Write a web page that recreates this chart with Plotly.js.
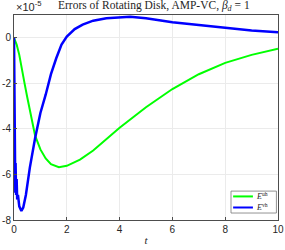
<!DOCTYPE html>
<html><head><meta charset="utf-8">
<script src="https://cdn.plot.ly/plotly-3.0.1.min.js"></script>
<style>body{margin:0;background:#fff}#c{width:285px;height:250px}</style>
</head><body><div id="c"></div>
<script>
var tGreen = [0,0.1,0.2,0.3,0.4,0.5,0.6,0.8,1.0,1.2,1.4,1.7,2.0,2.5,3.0,3.5,4.0,4.5,5.0,6.0,7.0,8.0,9.0,10];
var eGreen = [0,-0.3,-0.75,-1.3,-2.0,-2.6,-3.2,-4.3,-4.9,-5.3,-5.55,-5.68,-5.62,-5.35,-4.95,-4.45,-3.95,-3.5,-3.05,-2.25,-1.6,-1.1,-0.75,-0.48];
var tBlue = [0,0.01,0.02,0.04,0.05,0.06,0.08,0.1,0.12,0.15,0.2,0.28,0.35,0.45,0.6,0.8,1.0,1.2,1.4,1.6,1.8,2.0,2.3,2.6,3.0,3.5,4.0,4.4,5.0,5.5,6.0,7.0,8.0,9.0,10];
var eBlue = [0,-2,-4.5,-5.6,-6.8,-5.5,-6.9,-6.2,-7.1,-6.9,-7.4,-7.6,-7.45,-6.9,-5.7,-4.4,-3.3,-2.5,-1.6,-0.9,-0.3,0.05,0.38,0.58,0.75,0.86,0.91,0.92,0.86,0.78,0.68,0.56,0.43,0.32,0.24];
var xTicks = [0,2,4,6,8,10];
var yTicks = [0,-2,-4,-6,-8];
var yTickText = ["0","-2","-4","-6","-8"];
var scale = 1e-5;
var names = ["<i>E</i><sup>uh</sup>","<i>E</i><sup>vh</sup>"];
var colors = ['#00ff00','#0000ff'];

var traces = [
 {x:tGreen, y:eGreen.map(function(v){return v*scale;}), mode:'lines', line:{color:colors[0],width:2}, name:names[0], showlegend:false},
 {x:tBlue, y:eBlue.map(function(v){return v*scale;}), mode:'lines', line:{color:colors[1],width:2.5}, name:names[1], showlegend:false}
];
var axfont = {family:'Liberation Sans, Arial, sans-serif', size:10, color:'#262626'};
var legY = [0.115, 0.061];
var shapes = [
 {type:'rect', xref:'paper', yref:'paper', x0:0.822, x1:0.994, y0:0.034, y1:0.141, line:{color:'#777',width:0.8}, fillcolor:'#fff', layer:'above'}
];
var annotations = [
 {xref:'paper',yref:'paper',x:0,y:1,xanchor:'left',yanchor:'bottom',showarrow:false,
  text:'×10<sup>-5</sup>', font:{family:'Liberation Sans, Arial, sans-serif',size:11,color:'#262626'}},
 {xref:'paper',yref:'paper',x:0.53,y:1,xanchor:'center',yanchor:'bottom',showarrow:false,
  text:'Errors of Rotating Disk, AMP-VC, <i>β<sub>d</sub></i> = 1', font:{family:'Liberation Serif, serif',size:11.5,color:'#262626'}}
];
for (var i=0;i<names.length;i++){
  shapes.push({type:'line', xref:'paper', yref:'paper', x0:0.830, x1:0.905, y0:legY[i], y1:legY[i], line:{color:colors[i],width:2}, layer:'above'});
  annotations.push({xref:'paper',yref:'paper',x:0.910,y:legY[i],xanchor:'left',yanchor:'middle',showarrow:false,
   text:names[i], font:{family:'Liberation Serif, serif',size:8,color:'#262626'}});
}
var layout = {
 width:285, height:250,
 margin:{l:14,r:7,t:15,b:30},
 paper_bgcolor:'#fff', plot_bgcolor:'#fff',
 showlegend:false,
 xaxis:{range:[0,10], tickvals:xTicks, ticktext:xTicks.map(String), showgrid:true, gridcolor:'#ebebeb', gridwidth:1,
   zeroline:false, showline:true, linecolor:'#4d4d4d', linewidth:1, mirror:true, ticks:'inside', ticklen:3, tickcolor:'#4d4d4d',
   tickfont:axfont, title:{text:'<i>t</i>', font:{family:'Liberation Serif, serif',size:11,color:'#262626'}, standoff:2}},
 yaxis:{range:[-8*scale,1*scale], tickvals:yTicks.map(function(v){return v*scale;}), ticktext:yTickText, showgrid:true, gridcolor:'#ebebeb', gridwidth:1,
   zeroline:false, showline:true, linecolor:'#4d4d4d', linewidth:1, mirror:true, ticks:'inside', ticklen:3, tickcolor:'#4d4d4d',
   tickfont:axfont},
 shapes:shapes,
 annotations:annotations
};
Plotly.newPlot('c', traces, layout, {displayModeBar:false, staticPlot:true});
</script></body></html>
